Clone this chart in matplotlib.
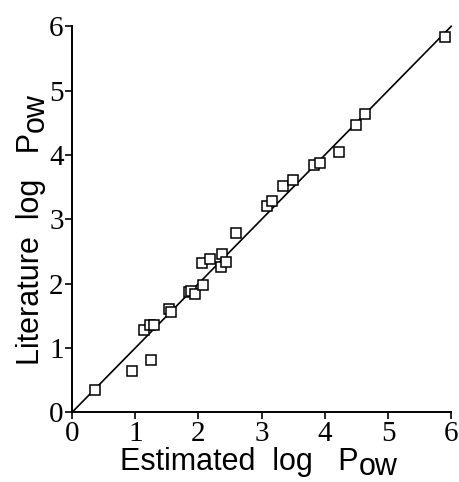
import matplotlib
matplotlib.use("Agg")
import matplotlib.pyplot as plt

# Estimated vs literature log Pow
est_logp = [0.37, 0.95, 1.25, 1.14, 1.23, 1.30, 1.54, 1.56, 1.85, 1.88,
            1.94, 2.07, 2.06, 2.19, 2.35, 2.37, 2.43, 2.60, 3.08, 3.16,
            3.34, 3.49, 3.83, 3.92, 4.23, 4.50, 4.64, 5.90]
lit_logp = [0.34, 0.64, 0.82, 1.28, 1.36, 1.36, 1.60, 1.56, 1.87, 1.89,
            1.84, 1.98, 2.32, 2.38, 2.26, 2.46, 2.33, 2.78, 3.20, 3.28,
            3.52, 3.61, 3.85, 3.88, 4.04, 4.46, 4.64, 5.84]
ticks = [0, 1, 2, 3, 4, 5, 6]
line_x = [0, 6]
line_y = [0, 6]

LABEL_FONT = "Liberation Sans"
LABEL_SIZE = 22

fig = plt.figure(figsize=(4.59, 4.82), dpi=100)
ax = fig.add_axes([0.157, 0.1446, 0.826, 0.8008])

ax.plot(line_x, line_y, color="black", linewidth=1.2, clip_on=False)
ax.plot(est_logp, lit_logp, linestyle="none", marker="s", markersize=6.5,
        markerfacecolor="white", markeredgecolor="black", markeredgewidth=1.1,
        clip_on=False)

ax.set_xlim(0, 6)
ax.set_ylim(0, 6)
ax.set_xticks(ticks)
ax.set_yticks(ticks)
for lab in ax.get_xticklabels() + ax.get_yticklabels():
    lab.set_family("Liberation Serif")
    lab.set_fontsize(21)
ax.tick_params(direction="out", length=5, width=1.2, pad=1)

for side in ["top", "right"]:
    ax.spines[side].set_visible(False)
for side in ["left", "bottom"]:
    ax.spines[side].set_linewidth(1.4)

# axis labels: "P" followed by a lowered "ow"
xl = ax.set_xlabel("Estimated  log   P", family=LABEL_FONT,
                   fontsize=LABEL_SIZE, labelpad=0.5, x=0.44)
ax.annotate("ow", xy=(1, 0), xycoords=xl, xytext=(0.5, 2.0),
            textcoords="offset points", ha="left", va="baseline",
            family=LABEL_FONT, fontsize=LABEL_SIZE)

yl = ax.set_ylabel("Literature  log   P", family=LABEL_FONT,
                   fontsize=LABEL_SIZE, labelpad=2.5, y=0.424)
ax.annotate("ow", xy=(1, 1), xycoords=yl, xytext=(-1.7, 0.5),
            textcoords="offset points", ha="left", va="baseline",
            rotation=90, rotation_mode="anchor",
            family=LABEL_FONT, fontsize=LABEL_SIZE)

fig.savefig("out.png", dpi=100)
